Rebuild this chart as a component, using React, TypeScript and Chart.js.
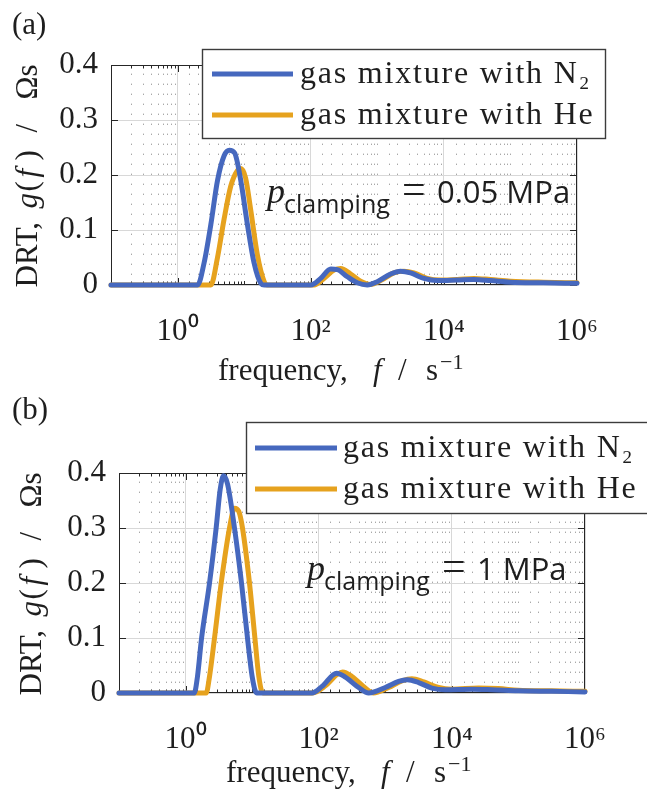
import React, { useEffect, useRef } from "react";
import { Chart, registerables } from "chart.js";
Chart.register(...registerables);

// ---------------- data ----------------
// panel (a): p_clamping = 0.05 MPa
const freqA_N2 = [0.1, 2.0, 2.5, 3.16, 3.98, 5.0, 6.0, 7.2, 8.9, 11.2, 14.1, 17.8, 20, 100, 141, 200, 251, 355, 501, 708, 1000, 1585, 2239, 3162, 5012, 7943, 15849, 28184, 50119, 100000, 316228, 1000000];
const drtA_N2 = [0, 0, 0.04, 0.11, 0.19, 0.235, 0.245, 0.24, 0.19, 0.11, 0.04, 0.003, 0, 0, 0.012, 0.029, 0.028, 0.015, 0.004, 0, 0.006, 0.02, 0.025, 0.022, 0.012, 0.008, 0.009, 0.01, 0.008, 0.005, 0.004, 0.003];
const freqA_He = [0.1, 3.16, 3.98, 5.0, 6.3, 7.9, 8.9, 10.5, 12.6, 15.8, 20, 22.4, 112, 158, 224, 282, 398, 562, 794, 1122, 1778, 2512, 3548, 5623, 8913, 15849, 28184, 50119, 100000, 316228, 1000000];
const drtA_He = [0, 0, 0.05, 0.12, 0.18, 0.208, 0.212, 0.195, 0.135, 0.055, 0.006, 0, 0, 0.012, 0.027, 0.03, 0.02, 0.007, 0.001, 0.008, 0.022, 0.025, 0.022, 0.012, 0.009, 0.01, 0.012, 0.01, 0.007, 0.005, 0.004];

// panel (b): p_clamping = 1 MPa
const freqB_N2 = [0.1, 1.35, 1.51, 1.74, 2.29, 2.88, 3.31, 3.72, 4.27, 5.43, 6.92, 8.51, 10, 11.7, 79, 112, 186, 251, 398, 562, 1000, 1585, 2138, 3162, 5012, 7943, 19953, 39811, 100000, 316228, 1000000];
const drtB_N2 = [0, 0, 0.03, 0.1, 0.2, 0.3, 0.37, 0.395, 0.38, 0.3, 0.2, 0.1, 0.03, 0, 0, 0.012, 0.036, 0.029, 0.01, 0, 0.01, 0.021, 0.024, 0.019, 0.009, 0.006, 0.007, 0.006, 0.004, 0.003, 0.002];
const freqB_He = [0.1, 2.04, 2.29, 2.72, 3.43, 4.57, 5.43, 6.31, 7.16, 9.12, 11, 12.6, 14.5, 81, 126, 191, 229, 316, 501, 661, 1122, 1778, 2512, 3802, 6310, 10000, 25119, 50119, 100000, 316228, 1000000];
const drtB_He = [0, 0, 0.03, 0.1, 0.2, 0.3, 0.336, 0.33, 0.3, 0.2, 0.1, 0.03, 0, 0, 0.013, 0.034, 0.038, 0.03, 0.009, 0, 0.01, 0.022, 0.026, 0.02, 0.01, 0.007, 0.009, 0.008, 0.005, 0.004, 0.003];

const seriesLabels = ["gas mixture with N\u2082", "gas mixture with He"];
const panelLabels = ["(a)", "(b)"];
const pressureLabels = ["0.05 MPa", "1 MPa"];
const xTickValues = [1, 100, 10000, 1000000];
const xTickLabels = ["10\u2070", "10\u00B2", "10\u2074", "10\u2076"];
const yTickValues = [0, 0.1, 0.2, 0.3, 0.4];
const yTickLabels = ["0", "0.1", "0.2", "0.3", "0.4"];

// ---------------- style ----------------
const W = 647;
const H = 397;
const BLUE = "#4668BE";
const ORANGE = "#E6A21E";
const TEXT = "#1e1e1e";
const AXIS = "#262626";
const GRID = "#d8d8d8";
const MINOR = "#a8a8a8";
const SERIF = '"Liberation Serif", "Times New Roman", serif';
const SANS = '"Open Sans", "Noto Sans", sans-serif';

const near = (a: number, b: number) => Math.abs(a - b) <= 1e-9 * Math.max(1, Math.abs(b));
const isDecade = (v: number) => {
  const l = Math.log10(v);
  return Math.abs(l - Math.round(l)) < 1e-6;
};
const isLabelled = (v: number) => xTickValues.some((t) => near(v, t));

type Run = { t: string; font: string; at: number; dy?: number };

const yTitleRuns: Run[] = [
  { t: "DRT,", font: `31px ${SERIF}`, at: 0 },
  { t: "g", font: `italic 31px ${SERIF}`, at: 79 },
  { t: "(", font: `31px ${SERIF}`, at: 96 },
  { t: "f", font: `italic 31px ${SERIF}`, at: 110 },
  { t: ")", font: `31px ${SERIF}`, at: 127 },
  { t: "/", font: `31px ${SERIF}`, at: 155 },
  { t: "\u03A9s", font: `31px ${SERIF}`, at: 188 },
];
const yTitleWidth = 225;

const xTitleRuns: Run[] = [
  { t: "frequency,", font: `31px ${SERIF}`, at: 0 },
  { t: "f", font: `italic 31px ${SERIF}`, at: 155 },
  { t: "/", font: `31px ${SERIF}`, at: 180 },
  { t: "s", font: `31px ${SERIF}`, at: 208 },
  { t: "\u22121", font: `22px ${SERIF}`, at: 222, dy: -11 },
];
const xTitleWidth = 252;

function annotRuns(value: string): Run[] {
  return [
    { t: "p", font: `italic 36px ${SERIF}`, at: 0 },
    { t: "clamping", font: `25px ${SANS}`, at: 17, dy: 10 },
    { t: "=", font: `42px ${SERIF}`, at: 135 },
    { t: value, font: `31px ${SANS}`, at: 170 },
  ];
}

type Spec = {
  label: string;
  pressure: string;
  n2: { f: number[]; g: number[] };
  he: { f: number[]; g: number[] };
  plot: { left: number; right: number; top: number; bottom: number };
  labelPos: { x: number; y: number };
  yTitleX: number;
  xTitleY: number;
  legend: { x: number; y: number; w: number; h: number; l0: number; l1: number; tx: number; rows: number[] };
  annot: { x: number; y: number };
};

const specA: Spec = {
  label: panelLabels[0],
  pressure: pressureLabels[0],
  n2: { f: freqA_N2, g: drtA_N2 },
  he: { f: freqA_He, g: drtA_He },
  plot: { left: 111, right: 577, top: 65, bottom: 285 },
  labelPos: { x: 12, y: 34 },
  yTitleX: 37,
  xTitleY: 380,
  legend: { x: 202, y: 49, w: 403, h: 89, l0: 212, l1: 293, tx: 300, rows: [74, 115] },
  annot: { x: 267, y: 203 },
};

const specB: Spec = {
  label: panelLabels[1],
  pressure: pressureLabels[1],
  n2: { f: freqB_N2, g: drtB_N2 },
  he: { f: freqB_He, g: drtB_He },
  plot: { left: 119, right: 585, top: 76, bottom: 296 },
  labelPos: { x: 12, y: 22 },
  yTitleX: 41,
  xTitleY: 385,
  legend: { x: 246, y: 25, w: 403, h: 91, l0: 255, l1: 337, tx: 343, rows: [51, 92] },
  annot: { x: 307, y: 183 },
};

function drawRuns(ctx: CanvasRenderingContext2D, runs: Run[], x: number, y: number) {
  for (const r of runs) {
    ctx.font = r.font;
    ctx.fillText(r.t, x + r.at, y + (r.dy || 0));
  }
}

function makePlugin(s: Spec) {
  return {
    id: "decor",
    beforeDatasetsDraw(chart: any) {
      const ctx: CanvasRenderingContext2D = chart.ctx;
      const a = chart.chartArea;
      const xs = chart.scales.x;
      const ys = chart.scales.y;
      ctx.save();
      // minor dotted grid
      ctx.strokeStyle = MINOR;
      ctx.lineWidth = 1;
      ctx.setLineDash([1.4, 8.6]);
      for (const tk of xs.ticks) {
        const v = tk.value;
        if (isLabelled(v) || v <= xs.min * 1.0001 || v >= xs.max * 0.9999) continue;
        const px = Math.round(xs.getPixelForValue(v)) + 0.5;
        ctx.beginPath();
        ctx.moveTo(px, a.bottom);
        ctx.lineTo(px, a.top);
        ctx.stroke();
      }
      ctx.setLineDash([]);
      // box
      ctx.strokeStyle = AXIS;
      ctx.lineWidth = 1;
      ctx.strokeRect(Math.round(a.left) + 0.5, Math.round(a.top) + 0.5, Math.round(a.right - a.left) - 1, Math.round(a.bottom - a.top) - 1);
      // inner ticks
      ctx.beginPath();
      for (const tk of xs.ticks) {
        const v = tk.value;
        if (v <= xs.min * 1.0001 || v >= xs.max * 0.9999) continue;
        const len = isLabelled(v) ? 7 : isDecade(v) ? 4 : 3.5;
        const px = Math.round(xs.getPixelForValue(v)) + 0.5;
        ctx.moveTo(px, a.bottom);
        ctx.lineTo(px, a.bottom - len);
        ctx.moveTo(px, a.top);
        ctx.lineTo(px, a.top + len);
      }
      for (const v of yTickValues) {
        const py = Math.round(ys.getPixelForValue(v)) + 0.5;
        ctx.moveTo(a.left, py);
        ctx.lineTo(a.left + 7, py);
        ctx.moveTo(a.right, py);
        ctx.lineTo(a.right - 7, py);
      }
      ctx.stroke();
      ctx.restore();
    },
    afterDatasetsDraw(chart: any) {
      const ctx: CanvasRenderingContext2D = chart.ctx;
      const L = s.legend;
      ctx.save();
      // annotation
      ctx.fillStyle = TEXT;
      ctx.textBaseline = "alphabetic";
      ctx.textAlign = "left";
      drawRuns(ctx, annotRuns(s.pressure), s.annot.x, s.annot.y);
      // legend
      ctx.fillStyle = "#ffffff";
      ctx.fillRect(L.x, L.y, L.w, L.h);
      ctx.strokeStyle = "#3c3c3c";
      ctx.lineWidth = 1.4;
      ctx.strokeRect(L.x + 0.5, L.y + 0.5, L.w, L.h);
      chart.data.datasets.forEach((ds: any, i: number) => {
        const y = L.rows[i];
        ctx.strokeStyle = ds.borderColor;
        ctx.lineWidth = 5;
        ctx.beginPath();
        ctx.moveTo(L.l0, y);
        ctx.lineTo(L.l1, y);
        ctx.stroke();
        ctx.fillStyle = TEXT;
        ctx.font = `32px ${SERIF}`;
        (ctx as any).letterSpacing = "1.8px";
        ctx.fillText(ds.label, L.tx, y + 9);
        (ctx as any).letterSpacing = "0px";
      });
      ctx.restore();
    },
    afterDraw(chart: any) {
      const ctx: CanvasRenderingContext2D = chart.ctx;
      const a = chart.chartArea;
      ctx.save();
      ctx.fillStyle = TEXT;
      ctx.textBaseline = "alphabetic";
      ctx.textAlign = "left";
      // panel label
      ctx.font = `31px ${SERIF}`;
      ctx.fillText(s.label, s.labelPos.x, s.labelPos.y);
      // x title
      drawRuns(ctx, xTitleRuns, (a.left + a.right) / 2 - xTitleWidth / 2, s.xTitleY);
      // y title
      ctx.translate(s.yTitleX, (a.top + a.bottom) / 2);
      ctx.rotate(-Math.PI / 2);
      drawRuns(ctx, yTitleRuns, -yTitleWidth / 2, 0);
      ctx.restore();
    },
  };
}

function toPoints(f: number[], g: number[]) {
  return f.map((x, i) => ({ x, y: g[i] }));
}

function makeConfig(s: Spec): any {
  const line = (label: string, color: string, d: { f: number[]; g: number[] }) => ({
    label,
    data: toPoints(d.f, d.g),
    borderColor: color,
    backgroundColor: color,
    borderWidth: 5,
    pointRadius: 0,
    cubicInterpolationMode: "monotone",
    borderJoinStyle: "round",
    borderCapStyle: "round",
    fill: false,
    clip: 10,
  });
  return {
    type: "line",
    data: {
      datasets: [line(seriesLabels[0], BLUE, s.n2), line(seriesLabels[1], ORANGE, s.he)],
    },
    options: {
      responsive: false,
      animation: false,
      events: [],
      layout: { padding: { top: s.plot.top, right: W - s.plot.right, left: 0, bottom: 0 } },
      plugins: { legend: { display: false }, tooltip: { enabled: false }, title: { display: false } },
      scales: {
        x: {
          type: "logarithmic",
          min: 0.1,
          max: 1000000,
          afterFit: (sc: any) => {
            sc.height = H - s.plot.bottom;
          },
          grid: {
            color: (c: any) => (c.tick && isLabelled(c.tick.value) ? GRID : "rgba(0,0,0,0)"),
            lineWidth: 1,
            drawTicks: false,
          },
          border: { display: false },
          ticks: {
            autoSkip: false,
            maxRotation: 0,
            minRotation: 0,
            padding: 28,
            color: TEXT,
            font: { family: SERIF, size: 31 },
            callback: (v: number) => {
              const i = xTickValues.findIndex((t) => near(v, t));
              return i >= 0 ? xTickLabels[i] : "";
            },
          },
        },
        y: {
          min: 0,
          max: 0.4,
          afterFit: (sc: any) => {
            sc.width = s.plot.left;
          },
          grid: { color: GRID, lineWidth: 1, drawTicks: false },
          border: { display: false },
          ticks: {
            stepSize: 0.1,
            padding: 13,
            color: TEXT,
            font: { family: SERIF, size: 31 },
            callback: (v: number) => {
              const i = yTickValues.findIndex((t) => Math.abs(v - t) < 1e-9);
              return i >= 0 ? yTickLabels[i] : "";
            },
          },
        },
      },
    },
    plugins: [makePlugin(s)],
  };
}

const FONT_FACES = [
  '31px "Liberation Serif"',
  'italic 31px "Liberation Serif"',
  '31px "Open Sans"',
];

function Panel({ spec }: { spec: Spec }) {
  const ref = useRef<HTMLCanvasElement | null>(null);
  useEffect(() => {
    if (!ref.current) return;
    const chart = new Chart(ref.current, makeConfig(spec));
    let alive = true;
    const fonts: any = (document as any).fonts;
    if (fonts && fonts.load) {
      Promise.all(FONT_FACES.map((f) => fonts.load(f, "gas mixture 0.1 10\u2070 \u03A9")))
        .then(() => {
          if (alive) chart.update();
        })
        .catch(() => {});
    }
    return () => {
      alive = false;
      chart.destroy();
    };
  }, [spec]);
  return <canvas ref={ref} width={W} height={H} style={{ display: "block", width: W, height: H }} />;
}

export default function App() {
  useEffect(() => {
    document.body.style.margin = "0";
    document.body.style.background = "#ffffff";
  }, []);
  return (
    <div style={{ width: W, height: 2 * H, background: "#ffffff", overflow: "hidden" }}>
      <style>{"body{margin:0;background:#fff}"}</style>
      <Panel spec={specA} />
      <Panel spec={specB} />
    </div>
  );
}
